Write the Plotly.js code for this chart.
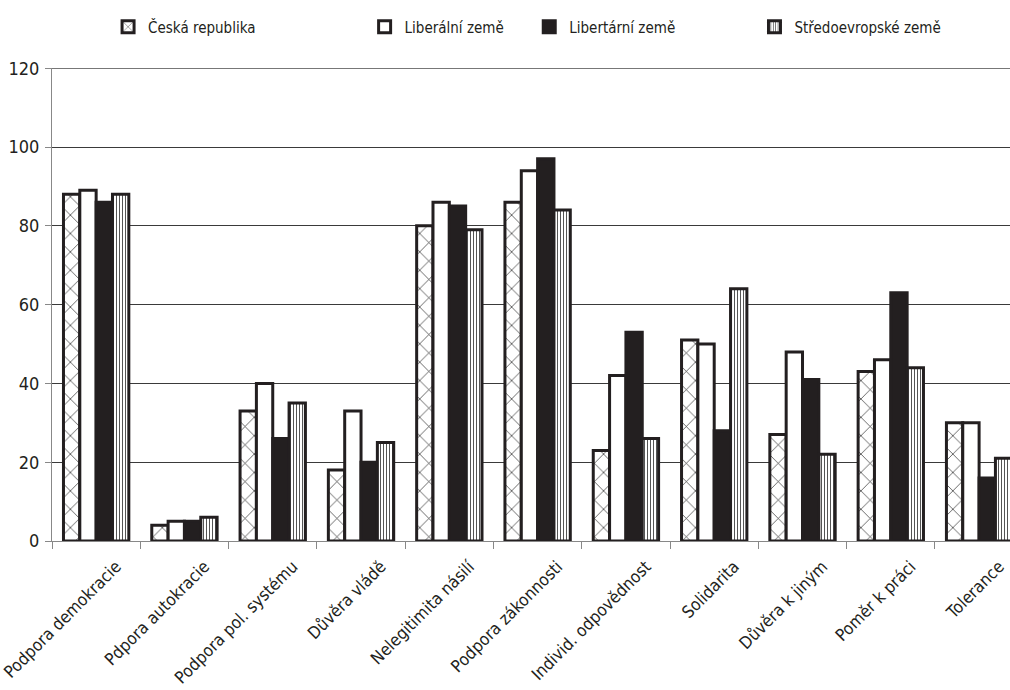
<!DOCTYPE html>
<html>
<head>
<meta charset="utf-8">
<script src="https://cdn.plot.ly/plotly-3.0.1.min.js"></script>
<style>html,body{margin:0;padding:0;background:#fff;overflow:hidden}</style>
</head>
<body>
<div id="chart" style="width:1010px;height:690px"></div>
<script>
const categories = ["Podpora demokracie","Pdpora autokracie","Podpora pol. systému","Důvěra vládě","Nelegitimita násilí","Podpora zákonnosti","Individ. odpovědnost","Solidarita","Důvěra k jiným","Poměr k práci","Tolerance"];
const seriesNames = ["Česká republika","Liberální země","Libertární země","Středoevropské země"];
const ceskaRepublika = [88,4,33,18,80,86,23,51,27,43,30];
const liberalniZeme = [89,5,40,33,86,94,42,50,48,46,30];
const libertarniZeme = [86,5,26,20,85,97,53,28,41,63,16];
const stredoevropskeZeme = [88,6,35,25,79,84,26,64,22,44,21];
const yTicks = [0,20,40,60,80,100,120];

const FONT = '"DejaVu Sans Condensed","DejaVu Sans",sans-serif';
const INK = '#231f20';
const line = {color: INK, width: 3};

const styles = [
  {color:'#ffffff', pattern:{shape:'x', fgcolor:'#222', bgcolor:'#fff', size:13, solidity:0.1}},
  {color:'#ffffff'},
  {color:INK},
  {color:'#ffffff', pattern:{shape:'|', fgcolor:'#555', bgcolor:'#fff', size:3, solidity:0.35}}
];
const values = [ceskaRepublika, liberalniZeme, libertarniZeme, stredoevropskeZeme];
const legendX = [0.107, 0.361, 0.524, 0.747];
const legendIds = ['legend','legend2','legend3','legend4'];

const traces = values.map((v,i)=>({
  type:'bar', x:categories, y:v, name:seriesNames[i],
  marker:Object.assign({line:line}, styles[i]),
  legend: legendIds[i], hoverinfo:'skip'
}));

const layout = {
  width:1010, height:690,
  margin:{l:52, r:0, t:68, b:149},
  paper_bgcolor:'#fff', plot_bgcolor:'#fff',
  font:{family:FONT, size:17, color:INK},
  barmode:'group', bargap:0.26, bargroupgap:0,
  xaxis:{
    type:'category', range:[-0.5,10.35],
    showgrid:false, showline:true, linecolor:'#888', linewidth:1,
    ticks:'outside', tickson:'boundaries', ticklen:7, tickcolor:'#888',
    tickangle:-45, ticklabelshift:20, ticklabelstandoff:8,
    tickfont:{family:FONT, size:17, color:INK}, fixedrange:true
  },
  yaxis:{
    range:[0,120.05], tickvals:yTicks, ticktext:yTicks.map(String),
    showgrid:true, gridcolor:'#3a3a3a', gridwidth:1,
    showline:true, linecolor:'#888', linewidth:1,
    ticks:'outside', ticklen:6, tickcolor:'#888', ticklabelstandoff:2,
    zeroline:false, tickfont:{family:FONT, size:18, color:INK}, fixedrange:true
  },
  shapes:[{type:'line', xref:'paper', yref:'y', x0:0, x1:1, y0:yTicks[yTicks.length-1], y1:yTicks[yTicks.length-1],
    line:{color:'#3a3a3a', width:1}, layer:'below'}],
  showlegend:true
};
legendIds.forEach((id,i)=>{
  layout[id] = {orientation:'h', x:legendX[i], y:1 - 27/690, xref:'container', yref:'container',
    xanchor:'left', yanchor:'middle', bgcolor:'rgba(0,0,0,0)',
    font:{family:FONT, size:15, color:INK}};
});

Plotly.newPlot('chart', traces, layout, {displayModeBar:false, staticPlot:true});
</script>
</body>
</html>
